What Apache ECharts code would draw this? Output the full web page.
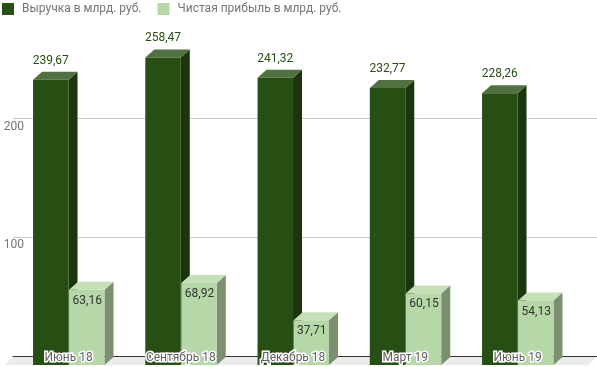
<!DOCTYPE html>
<html><head><meta charset="utf-8">
<style>html,body{margin:0;padding:0;background:#fff}#c{width:597px;height:367px}</style>
<script src="https://cdn.jsdelivr.net/npm/echarts@6/dist/echarts.min.js"></script>
</head><body><div id="c"></div>
<script>
const categories = ['Июнь 18','Сентябрь 18','Декабрь 18','Март 19','Июнь 19'];
const revenue = [239.67,258.47,241.32,232.77,228.26];
const profit = [63.16,68.92,37.71,60.15,54.13];
const seriesNames = ['Выручка в млрд. руб.','Чистая прибыль в млрд. руб.'];
const DX = 9, DY = 8, BAR = 0.316;
const FONT = 'Roboto';
const fmt = v => v.toFixed(2).replace('.', ',');

function bar3d(which, col) {
  return function (params, api) {
    const cat = api.value(0), val = api.value(1);
    const p0 = api.coord([cat, 0]), p1 = api.coord([cat, val]);
    const w = api.size([1, 0])[0] * BAR;
    const x0 = which === 0 ? p0[0] - w : p0[0] + 0.5;
    const x1 = x0 + w, yb = p0[1], yt = p1[1];
    const kids = [
      {type:'polygon', shape:{points:[[x1,yt],[x1+DX,yt-DY],[x1+DX,yb-DY],[x1,yb]]}, style:{fill:col.side}},
      {type:'polygon', shape:{points:[[x0,yt],[x0+DX,yt-DY],[x1+DX,yt-DY],[x1,yt]]}, style:{fill:col.top}},
      {type:'rect', shape:{x:x0,y:yt,width:w,height:yb-yt}, style:{fill:col.front}},
      which === 0
        ? {type:'text', style:{text:fmt(val), x:(x0+x1)/2, y:yt-DY-5, align:'center', verticalAlign:'bottom', fill:'#274e13', font:'12px '+FONT}, z2:5}
        : {type:'text', style:{text:fmt(val), x:(x0+x1)/2+0.5, y:yt+5, align:'center', verticalAlign:'top', fill:'#333', font:'12px '+FONT}, z2:5}
    ];
    return {type:'group', children:kids};
  };
}
function floorItem(params) {
  const r = params.coordSys;
  const y = r.y + r.height;
  return {type:'polygon', shape:{points:[[r.x,y+1],[r.x+r.width,y+1],[r.x+r.width-DX,y+DY+1],[r.x-DX,y+DY+1]]}, style:{fill:'#ececec'}};
}
const chart = echarts.init(document.getElementById('c'), null, {renderer:'canvas'});
chart.setOption({
  animation:false,
  textStyle:{fontFamily:FONT},
  legend:{left:2, top:3, padding:0, itemWidth:12, itemHeight:12, itemGap:16, icon:'rect',
    data:seriesNames, textStyle:{color:'#757575', fontSize:12, fontFamily:FONT, padding:[0,0,0,3]}},
  grid:[
    {left:12.4, width:561.25, top:8, height:357},
    {left:13, right:0, top:-1, height:357}
  ],
  xAxis:[
    {gridIndex:0, type:'category', data:categories, z:6,
      axisLine:{show:false}, axisTick:{show:false}, splitLine:{show:false},
      axisLabel:{interval:0, margin:-7, verticalAlign:'middle', hideOverlap:false, color:'#5f5f5f', fontSize:12, fontFamily:FONT, textBorderColor:'#fff', textBorderWidth:3}},
    {gridIndex:1, type:'category', data:categories, z:1,
      axisLine:{show:true, lineStyle:{color:'#333', width:1}}, axisTick:{show:false}, axisLabel:{show:false}}
  ],
  yAxis:[
    {gridIndex:0, type:'value', min:0, max:300, interval:100, axisLine:{show:false}, axisTick:{show:false}, axisLabel:{show:false}, splitLine:{show:false}},
    {gridIndex:1, type:'value', min:0, max:300, interval:100, axisLine:{show:false}, axisTick:{show:false},
      axisLabel:{margin:-11, align:'right', verticalAlign:'top', showMinLabel:false, showMaxLabel:false, color:'#757575', fontSize:12, fontFamily:FONT, padding:[2,0,0,0]},
      splitLine:{show:true, showMinLine:false, showMaxLine:false, lineStyle:{color:'#ccc', width:1}}}
  ],
  series:[
    {type:'custom', xAxisIndex:1, yAxisIndex:1, z:0, silent:true, renderItem:floorItem, data:[[0,0]], legendHoverLink:false, tooltip:{show:false}},
    {type:'custom', name:seriesNames[0], xAxisIndex:0, yAxisIndex:0, z:3, itemStyle:{color:'#274e13'},
      renderItem:bar3d(0,{front:'#274e13',side:'#1b360d',top:'#527142'}),
      encode:{x:0,y:1}, data:revenue.map((v,i)=>[i,v])},
    {type:'custom', name:seriesNames[1], xAxisIndex:0, yAxisIndex:0, z:4, itemStyle:{color:'#b6d7a8'},
      renderItem:bar3d(1,{front:'#b6d7a8',side:'#7a9070',top:'#c5dfb9'}),
      encode:{x:0,y:1}, data:profit.map((v,i)=>[i,v])}
  ]
});
</script></body></html>
